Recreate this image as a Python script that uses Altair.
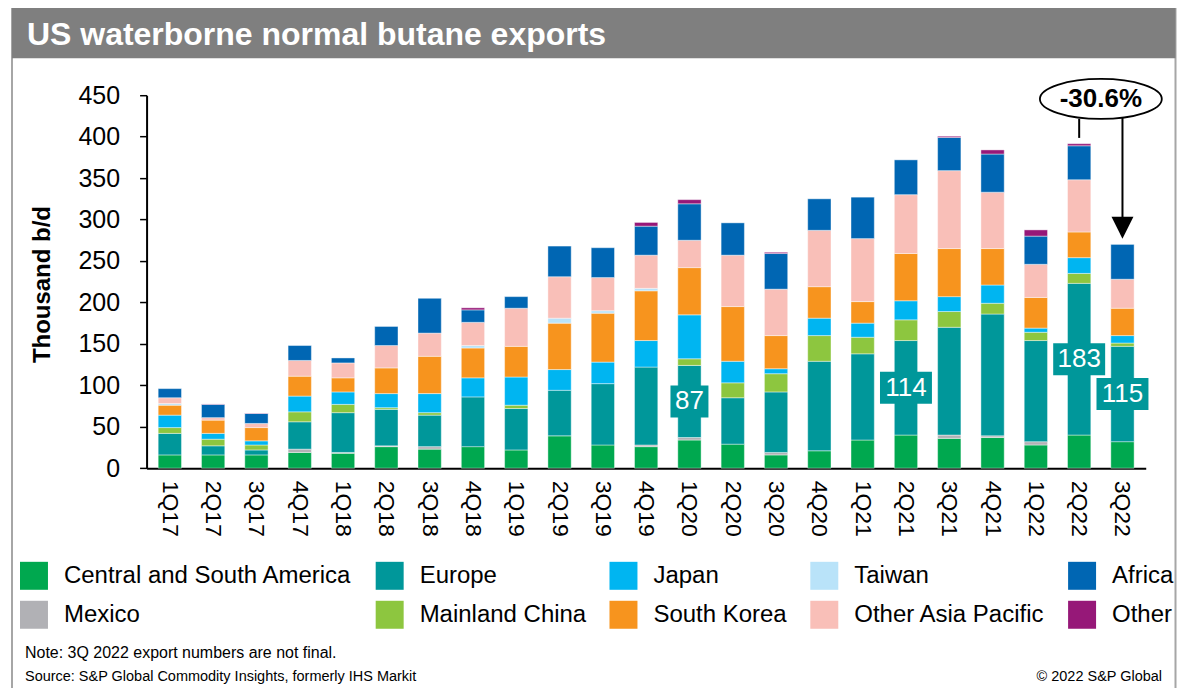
import altair as alt
import pandas as pd

quarters = ["1Q17", "2Q17", "3Q17", "4Q17", "1Q18", "2Q18", "3Q18", "4Q18",
            "1Q19", "2Q19", "3Q19", "4Q19", "1Q20", "2Q20", "3Q20", "4Q20",
            "1Q21", "2Q21", "3Q21", "4Q21", "1Q22", "2Q22", "3Q22"]

csa = [16, 16, 16, 19, 18, 26, 23, 26, 22, 39, 28, 26, 34, 29, 16, 21, 34, 40, 36, 37, 28, 40, 32]
mexico = [0, 0, 0, 4, 1, 1, 3, 0, 0, 0, 0, 2, 3, 0, 3, 0, 0, 0, 4, 2, 4, 0, 0]
europe = [26, 11, 6, 33, 48, 44, 38, 60, 50, 55, 74, 94, 87, 56, 73, 108, 104, 114, 130, 147, 122, 183, 115]
china = [7, 8, 6, 12, 10, 2, 3, 0, 4, 0, 0, 0, 8, 18, 22, 31, 20, 25, 19, 13, 10, 12, 4]
japan = [15, 7, 5, 19, 15, 17, 23, 23, 34, 25, 26, 32, 53, 26, 6, 21, 17, 23, 18, 22, 5, 19, 9]
korea = [12, 16, 16, 24, 17, 31, 45, 36, 37, 56, 59, 60, 57, 66, 40, 38, 26, 57, 58, 44, 37, 31, 33]
taiwan = [2, 0, 0, 0, 0, 0, 0, 3, 0, 6, 3, 3, 0, 0, 0, 0, 0, 0, 0, 0, 0, 0, 0]
oap = [7, 3, 5, 19, 18, 27, 28, 28, 46, 50, 40, 40, 33, 62, 56, 68, 76, 71, 94, 68, 40, 63, 35]
africa = [11, 16, 12, 18, 6, 23, 42, 15, 14, 37, 36, 35, 44, 39, 43, 38, 50, 42, 40, 46, 34, 41, 42]
other = [0, 0.5, 0.5, 0, 0, 0, 0, 2.5, 0, 0, 0, 4.5, 5, 0, 1.5, 0, 0, 0, 1.5, 5, 7.5, 2.5, 0]

stack_regions = ["Central and South America", "Mexico", "Europe", "Mainland China", "Japan",
                 "South Korea", "Taiwan", "Other Asia Pacific", "Africa", "Other"]
stack_colors = ["#00A84F", "#B1B1B5", "#00979A", "#8DC63F", "#00B5F1",
                "#F7941E", "#B9E3F9", "#F9BFB8", "#0066B3", "#961878"]
stack_values = [csa, mexico, europe, china, japan, korea, taiwan, oap, africa, other]

labeled_quarters = ["1Q20", "2Q21", "2Q22", "3Q22"]
change_from, change_to = "2Q22", "3Q22"
change_label = "-30.6%"

title_text = "US waterborne normal butane exports"
y_title = "Thousand b/d"
note_text = "Note: 3Q 2022 export numbers are not final."
source_text = "Source: S&P Global Commodity Insights, formerly IHS Markit"
copyright_text = "\u00a9 2022 S&P Global"

FONT = "Liberation Sans"

# ---- tables built from the arrays ----
rows = []
for k, (reg, vals) in enumerate(zip(stack_regions, stack_values)):
    for q, v in zip(quarters, vals):
        if v > 0:
            rows.append({"quarter": q, "region": reg, "value": v, "order": k})
df = pd.DataFrame(rows)

totals = {q: sum(vals[i] for vals in stack_values) for i, q in enumerate(quarters)}

lab_rows = []
for q in labeled_quarters:
    i = quarters.index(q)
    mid = csa[i] + mexico[i] + europe[i] / 2
    txt = str(europe[i])
    lab_rows.append({"quarter": q, "mid": mid, "text": txt, "boxw": 14 * len(txt) + 10})
lab_df = pd.DataFrame(lab_rows)

t_from, t_to = totals[change_from], totals[change_to]
ann_df = pd.DataFrame([{
    "q_from": change_from, "q_to": change_to,
    "l1_a": t_from + 7, "l1_b": t_from + 30,
    "l2_a": t_from + 32, "l2_b": t_to + 20,
    "head": t_to + 20, "ell": t_from + 54, "label": change_label,
}])

# ---- layout geometry (page pixels) ----
PAD_L, PAD_T = 138.7, 87
W, H = 1000, 373.3
OX, OY = 8 + PAD_L, 8 + PAD_T


def px(x):
    return x - OX


def py(y):
    return y - OY


xscale = alt.Scale(domain=quarters, paddingInner=0.462, paddingOuter=0.268)
yscale = alt.Scale(domain=[0, 450], nice=False)

bars = alt.Chart(df).mark_bar(stroke="white", strokeWidth=0.6, strokeOpacity=0.7).encode(
    x=alt.X("quarter:N", scale=xscale, sort=quarters,
            axis=alt.Axis(title=None, labelAngle=90, labelAlign="left", labelBaseline="middle",
                          labelPadding=12, ticks=False, domainColor="black", domainWidth=2,
                          labelFont=FONT, labelFontSize=23, labelColor="black")),
    y=alt.Y("value:Q", stack="zero", scale=yscale,
            axis=alt.Axis(title=y_title, values=list(range(0, 451, 50)), grid=False,
                          domainColor="black", domainWidth=2, tickColor="black", tickWidth=1.5,
                          tickSize=7, labelPadding=20, labelFont=FONT, labelFontSize=25,
                          labelColor="black", titleFont=FONT, titleFontSize=24,
                          titleFontWeight="bold", titleColor="black", titleAngle=270,
                          titleX=px(43), titleY=py(284), titleAlign="center",
                          titleBaseline="middle")),
    color=alt.Color("region:N", scale=alt.Scale(domain=stack_regions, range=stack_colors),
                    legend=alt.Legend(title=None, orient="none", legendX=px(20), legendY=py(562),
                                      columns=5, symbolType="square", symbolSize=784,
                                      symbolStrokeWidth=0, labelFont=FONT, labelFontSize=24,
                                      labelColor="black", labelOffset=16, rowPadding=11,
                                      columnPadding=23, labelLimit=400, padding=0)),
    order=alt.Order("order:Q", sort="ascending"),
)

boxes = alt.Chart(lab_df).mark_tick(thickness=32, color="#00979A", opacity=1).encode(
    x=alt.X("quarter:N", scale=xscale, sort=quarters),
    y=alt.Y("mid:Q", scale=yscale),
    size=alt.Size("boxw:Q", scale=None),
)
box_text = alt.Chart(lab_df).mark_text(font=FONT, fontSize=26, color="white", baseline="middle",
                                       align="center").encode(
    x=alt.X("quarter:N", scale=xscale, sort=quarters),
    y=alt.Y("mid:Q", scale=yscale),
    text="text:N",
)

rule1 = alt.Chart(ann_df).mark_rule(color="black", strokeWidth=2).encode(
    x=alt.X("q_from:N", scale=xscale, sort=quarters),
    y=alt.Y("l1_a:Q", scale=yscale), y2="l1_b:Q")
rule2 = alt.Chart(ann_df).mark_rule(color="black", strokeWidth=2).encode(
    x=alt.X("q_to:N", scale=xscale, sort=quarters),
    y=alt.Y("l2_a:Q", scale=yscale), y2="l2_b:Q")
head = alt.Chart(ann_df).mark_point(shape="M-1,-1L1,-1L0,1Z", filled=True, size=484,
                                    color="black", opacity=1).encode(
    x=alt.X("q_to:N", scale=xscale, sort=quarters),
    y=alt.Y("head:Q", scale=yscale))
ellipse = alt.Chart(ann_df).mark_point(
    shape="M-1,0A1,0.328,0,1,0,1,0A1,0.328,0,1,0,-1,0Z", size=122 * 122, filled=True,
    fill="white", stroke="black", strokeWidth=1.8, opacity=1, xOffset=21.7).encode(
    x=alt.X("q_from:N", scale=xscale, sort=quarters),
    y=alt.Y("ell:Q", scale=yscale))
ell_text = alt.Chart(ann_df).mark_text(font=FONT, fontSize=26, fontWeight="bold", color="black",
                                       baseline="middle", align="center", xOffset=21.7).encode(
    x=alt.X("q_from:N", scale=xscale, sort=quarters),
    y=alt.Y("ell:Q", scale=yscale),
    text="label:N")

one = pd.DataFrame({"a": [0]})
frame = alt.Chart(one).mark_rect(filled=False, stroke="#A6A6A6", strokeWidth=2).encode(
    x=alt.value(px(12)), x2=alt.value(px(1176.5)), y=alt.value(py(3)), y2=alt.value(py(740)))
title_bar = alt.Chart(one).mark_rect(color="#7F7F7F").encode(
    x=alt.value(px(12)), x2=alt.value(px(1176.5)), y=alt.value(py(3)), y2=alt.value(py(58)))
title = alt.Chart(one).mark_text(text=title_text, font=FONT, fontSize=32, fontWeight="bold",
                                 color="white", align="left", baseline="middle").encode(
    x=alt.value(px(27)), y=alt.value(py(35)))
note = alt.Chart(one).mark_text(text=note_text, font=FONT, fontSize=16, color="black",
                                align="left", baseline="middle").encode(
    x=alt.value(px(25)), y=alt.value(py(653)))
source = alt.Chart(one).mark_text(text=source_text, font=FONT, fontSize=14.5, color="black",
                                  align="left", baseline="middle").encode(
    x=alt.value(px(25)), y=alt.value(py(677)))
copy_t = alt.Chart(one).mark_text(text=copyright_text, font=FONT, fontSize=14.5, color="black",
                                  align="right", baseline="middle").encode(
    x=alt.value(px(1163)), y=alt.value(py(677)))

chart = alt.layer(
    frame, title_bar, title, bars, boxes, box_text, rule1, rule2, head, ellipse, ell_text,
    note, source, copy_t
).properties(
    width=W, height=H,
    autosize=alt.AutoSizeParams(type="none"),
    padding={"left": PAD_L, "top": PAD_T, "right": 1170 - PAD_L - W, "bottom": 680 - PAD_T - H},
    background="white",
).configure_view(stroke=None)

chart.save("out.html", embed_options={"renderer": "svg", "actions": False})
